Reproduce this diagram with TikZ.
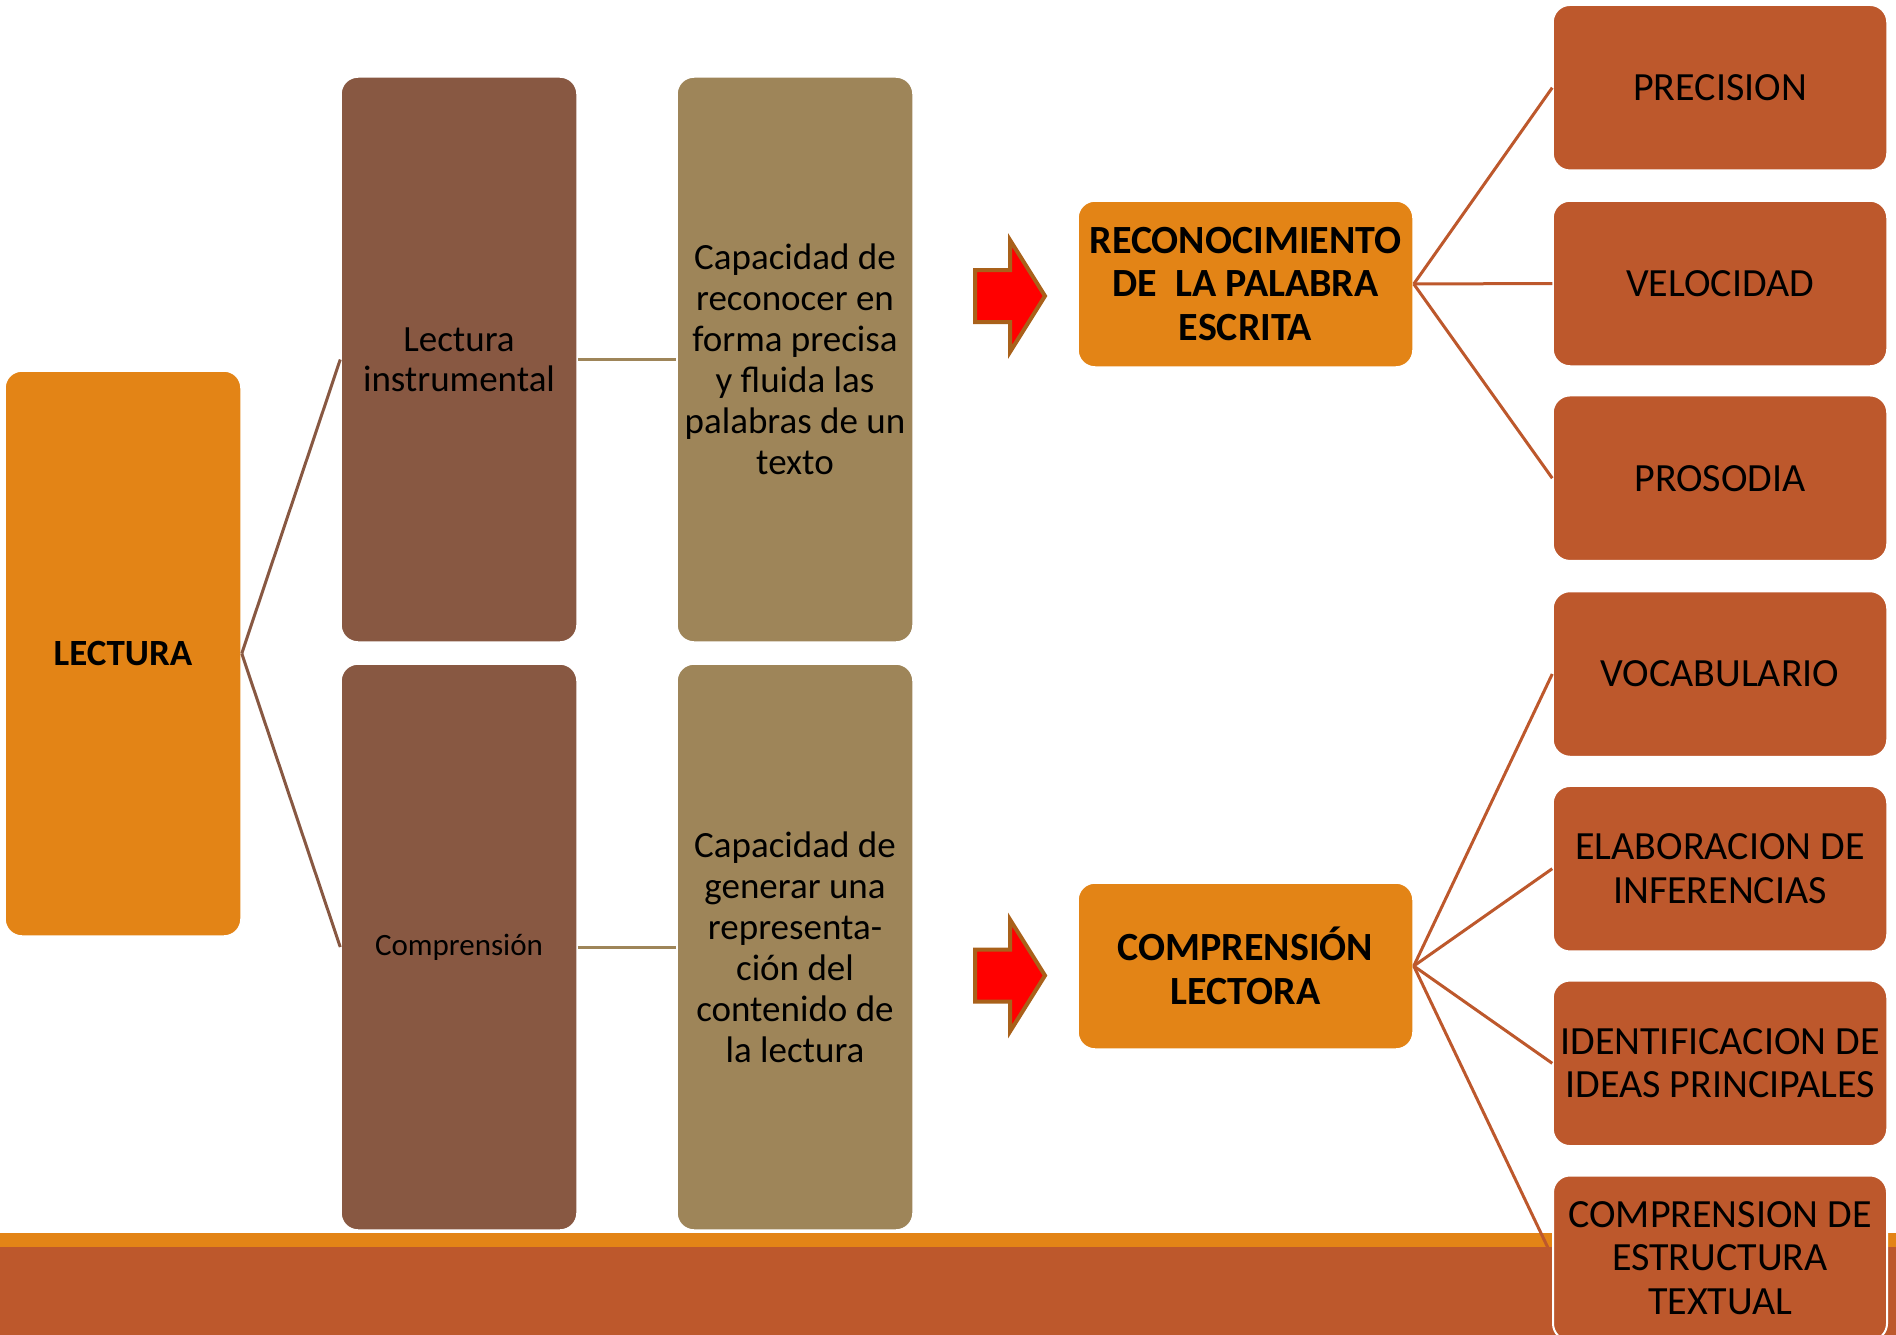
\documentclass[tikz,border=0pt]{standalone}
\usepackage{fontspec}
\setmainfont{Carlito}
\definecolor{orangeb}{HTML}{E38416}
\definecolor{rust}{HTML}{BD582C}
\definecolor{brownb}{HTML}{885842}
\definecolor{tanb}{HTML}{9E8559}
\definecolor{arrowbd}{HTML}{A9611A}
\begin{document}
\begin{tikzpicture}[x=1pt,y=-1pt,
  box/.style={rounded corners=17pt, draw=white, line width=1.5pt, align=center, inner sep=0pt, text=black},
  tallbox/.style={box, minimum width=236pt, minimum height=565pt},
  lecbox/.style={tallbox, fill=orangeb, font=\fontsize{37}{41}\selectfont\bfseries},
  brownbox/.style={tallbox, fill=brownb, font=\fontsize{37}{40}\selectfont},
  tanbox/.style={tallbox, fill=tanb, font=\fontsize{37}{41}\selectfont},
  headbox/.style={box, fill=orangeb, minimum width=335pt, minimum height=166pt, font=\fontsize{40}{43.5}\selectfont\bfseries},
  rbox/.style={box, fill=rust, minimum width=334pt, minimum height=165pt, font=\fontsize{40}{43.5}\selectfont},
  lconn/.style={draw=brownb, line width=3pt},
  mconn/.style={draw=tanb, line width=3pt},
  rconn/.style={draw=rust, line width=3pt},
  bigarrow/.style={fill=red, draw=arrowbd, line width=4pt}
]
\useasboundingbox (0,0) rectangle (1896,1335);
% bottom band
\fill[rust] (0,1247) rectangle (1896,1335);
\fill[orangeb] (0,1233) rectangle (1896,1247);

% nodes
\node[lecbox] (lectura) at (123,653.5) {LECTURA};
\node[brownbox] (instr) at (459,359.5) {Lectura\\instrumental};
\node[brownbox, minimum height=566pt, font=\fontsize{31}{36}\selectfont] (compr) at (459,947) {Comprensión};
\node[tanbox] (cap1) at (795,359.5) {Capacidad de\\reconocer en\\forma precisa\\y fluida las\\palabras de un\\texto};
\node[tanbox, minimum height=566pt] (cap2) at (795,947) {Capacidad de\\generar una\\representa-\\ción del\\contenido de\\la lectura};
\node[headbox] (recon) at (1245.5,284) {RECONOCIMIENTO\\DE\ \ LA PALABRA\\ESCRITA};
\node[headbox] (complec) at (1245.5,966) {COMPRENSIÓN\\LECTORA};

\node[rbox] (prec) at (1720,87.7) {PRECISION};
\node[rbox] (vel) at (1720,283.5) {VELOCIDAD};
\node[rbox] (pros) at (1720,478.2) {PROSODIA};
\node[rbox] (voc) at (1720,674) {VOCABULARIO};
\node[rbox] (elab) at (1720,868.7) {ELABORACION DE\\INFERENCIAS};
\node[rbox] (ident) at (1720,1063.3) {IDENTIFICACION DE\\IDEAS PRINCIPALES};

% connectors
\draw[lconn] (lectura.east) -- (instr.west);
\draw[lconn] (lectura.east) -- (compr.west);
\draw[mconn] (instr.east) -- (cap1.west);
\draw[mconn] (compr.east) -- (cap2.west);
\draw[rconn] (recon.east) -- (prec.west);
\draw[rconn] (recon.east) -- (vel.west);
\draw[rconn] (recon.east) -- (pros.west);
\draw[rconn] (complec.east) -- (voc.west);
\draw[rconn] (complec.east) -- (elab.west);
\draw[rconn] (complec.east) -- (ident.west);
\draw[rconn] (complec.east) -- (1549,1250) coordinate (estend);

\node[rbox, draw=white, line width=2pt] (estr) at (1720,1258) {COMPRENSION DE\\ESTRUCTURA\\TEXTUAL};

% block arrows
\coordinate (a1) at (1010,296);
\coordinate (a2) at (1010,975.5);
\foreach \a in {a1,a2}{
  \draw[bigarrow] (\a) ++(-35,-26) -- ++(35,0) -- ++(0,-30) -- ++(35,56) -- ++(-35,56) -- ++(0,-30) -- ++(-35,0) -- cycle;
}
\end{tikzpicture}
\end{document}
